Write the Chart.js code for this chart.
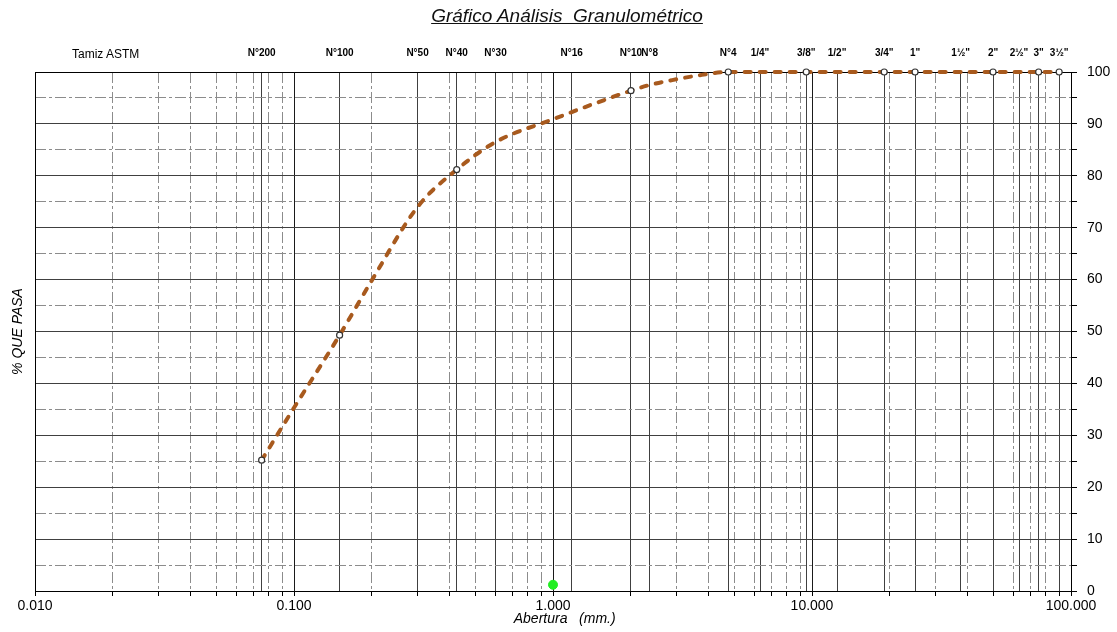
<!DOCTYPE html>
<html>
<head>
<meta charset="utf-8">
<title>Gráfico Análisis Granulométrico</title>
<script src="https://cdn.jsdelivr.net/npm/chart.js@4.4.1/dist/chart.umd.min.js"></script>
<style>
    html, body { margin: 0; padding: 0; background: #fff; }
    #wrap { position: relative; width: 1117px; height: 632px; }
    #titulo {
        position: absolute; top: 5px; left: 567px; transform: translateX(-50%);
        font: italic 19px "Liberation Sans", Arial, sans-serif;
        text-decoration: underline; white-space: pre; color: #111;
    }
    #tamiz {
        position: absolute; top: 47px; left: 72px;
        font: 12px "Liberation Sans", Arial, sans-serif; color: #000;
    }
</style>
</head>
<body>
<div id="wrap">
    <canvas id="granChart" width="1117" height="632"></canvas>
    <div id="titulo">Gráfico Análisis  Granulométrico</div>
    <div id="tamiz">Tamiz ASTM</div>
</div>
<script>
'use strict';

// Tamices ASTM (etiquetas y aberturas en mm)
const sieveLabels = ['N°200', 'N°100', 'N°50', 'N°40', 'N°30', 'N°16', 'N°10', 'N°8', 'N°4',
    '1/4"', '3/8"', '1/2"', '3/4"', '1"', '1½"', '2"', '2½"', '3"', '3½"'];
const sieveSizes = [0.075, 0.15, 0.3, 0.425, 0.6, 1.18, 2.0, 2.36, 4.75,
    6.3, 9.5, 12.5, 19, 25, 37.5, 50, 63, 75, 90];

// Ejes
const decadeTicks = [0.01, 0.1, 1, 10, 100];
const minorTicks = [0.02, 0.03, 0.04, 0.05, 0.06, 0.07, 0.08, 0.09,
    0.2, 0.3, 0.4, 0.5, 0.6, 0.7, 0.8, 0.9,
    2, 3, 4, 5, 6, 7, 8, 9,
    20, 30, 40, 50, 60, 70, 80, 90];
const yMajorTicks = [0, 10, 20, 30, 40, 50, 60, 70, 80, 90, 100];
const yMinorTicks = [5, 15, 25, 35, 45, 55, 65, 75, 85, 95];

// Puntos ensayados (% que pasa)
const testSizes = [0.075, 0.15, 0.425, 2.0, 4.75, 9.5, 19, 25, 50, 75, 90];
const testPass = [25.2, 49.3, 81.2, 96.4, 100, 100, 100, 100, 100, 100, 100];

// Curva granulométrica
const curveSizes = [0.075, 0.1, 0.15, 0.2, 0.3, 0.425, 0.6, 1.0, 2.0, 2.36, 3.0, 3.5, 4.75, 9.5, 19, 25, 50, 75, 90];
const curvePass = [25.2, 35.3, 49.3, 59.9, 74.0, 81.2, 86.5, 90.9, 96.4, 97.5, 98.6, 99.2, 100, 100, 100, 100, 100, 100, 100];

// Punto verde
const greenSize = [1.0];
const greenPass = [1.2];

const fontFamily = '"Liberation Sans", Arial, sans-serif';
const solidColor = '#404040',
    decadeColor = '#1a1a1a',
    dashColor = '#8c8c8c',
    curveColor = '#A85A1E';

Chart.defaults.font.family = fontFamily;
Chart.defaults.color = '#000';

function fixTicks(values) {
    return function (scale) {
        scale.ticks = values.map(v => ({ value: v }));
    };
}
function fixWidth(w) {
    return function (scale) { scale.width = w; };
}
function fixHeight(h) {
    return function (scale) { scale.height = h; };
}
function toPoints(xs, ys) {
    return xs.map((x, i) => ({ x: x, y: ys[i] }));
}

const ctx = document.getElementById('granChart');
new Chart(ctx, {
    type: 'scatter',
    data: {
        datasets: [
            {
                data: toPoints(testSizes, testPass),
                showLine: false,
                pointRadius: 3,
                pointBackgroundColor: '#fff',
                pointBorderColor: '#333',
                pointBorderWidth: 1.2,
                clip: false
            },
            {
                data: toPoints(greenSize, greenPass),
                showLine: false,
                pointRadius: 4.5,
                pointBackgroundColor: '#22ee22',
                pointBorderColor: '#22ee22',
                clip: false
            },
            {
                data: toPoints(curveSizes, curvePass),
                showLine: true,
                borderColor: curveColor,
                borderWidth: 4,
                borderDash: [6, 9],
                borderCapStyle: 'round',
                cubicInterpolationMode: 'monotone',
                pointRadius: 0,
                clip: false
            }
        ]
    },
    options: {
        responsive: false,
        animation: false,
        layout: { padding: 0 },
        plugins: {
            legend: { display: false },
            tooltip: { enabled: false },
            title: { display: false }
        },
        scales: {
            x: {
                type: 'logarithmic',
                position: 'bottom',
                weight: 0,
                min: 0.01,
                max: 100,
                afterBuildTicks: fixTicks(decadeTicks),
                afterFit: fixHeight(41),
                ticks: {
                    autoSkip: false,
                    maxRotation: 0,
                    padding: 2,
                    font: { size: 14 },
                    callback: v => Number(v).toFixed(3)
                },
                grid: { color: decadeColor, lineWidth: 1, tickLength: 5, tickColor: '#000' },
                border: { color: '#000', width: 1 },
                title: {
                    display: true,
                    text: '      Abertura   (mm.)',
                    font: { size: 14, style: 'italic' },
                    padding: { top: 0, bottom: 4 }
                }
            },
            xMinor: {
                type: 'logarithmic',
                position: 'bottom',
                weight: -1,
                min: 0.01,
                max: 100,
                afterBuildTicks: fixTicks(minorTicks),
                afterFit: fixHeight(0),
                ticks: { display: false },
                grid: { color: dashColor, lineWidth: 1, tickLength: 5, tickColor: '#000' },
                border: { display: false, dash: [11, 3, 3, 3] }
            },
            xSieve: {
                type: 'logarithmic',
                position: 'top',
                min: 0.01,
                max: 100,
                afterBuildTicks: fixTicks(sieveSizes),
                afterFit: fixHeight(72),
                ticks: {
                    autoSkip: false,
                    maxRotation: 0,
                    minRotation: 0,
                    padding: 13,
                    font: { size: 10, weight: 'bold' },
                    callback: (v, i) => sieveLabels[i]
                },
                grid: { color: solidColor, lineWidth: 1, drawTicks: false },
                border: { color: '#000', width: 1 }
            },
            y: {
                type: 'linear',
                position: 'right',
                weight: 0,
                min: 0,
                max: 100,
                afterBuildTicks: fixTicks(yMajorTicks),
                afterFit: fixWidth(46),
                ticks: { padding: 10, font: { size: 14 } },
                grid: { color: solidColor, lineWidth: 1, tickLength: 6, tickColor: '#000' },
                border: { color: '#000', width: 1 }
            },
            yMinor: {
                type: 'linear',
                position: 'right',
                weight: -1,
                min: 0,
                max: 100,
                afterBuildTicks: fixTicks(yMinorTicks),
                afterFit: fixWidth(0),
                ticks: { display: false },
                grid: { color: dashColor, lineWidth: 1, tickLength: 6, tickColor: '#000' },
                border: { display: false, dash: [11, 3, 3, 3] }
            },
            yLeft: {
                type: 'linear',
                position: 'left',
                min: 0,
                max: 100,
                afterFit: fixWidth(35),
                ticks: { display: false },
                grid: { drawOnChartArea: false, drawTicks: false },
                border: { color: '#000', width: 1 },
                title: {
                    display: true,
                    text: '% QUE PASA',
                    font: { size: 14, style: 'italic' },
                    padding: { top: 10, bottom: 0 }
                }
            }
        }
    }
});
</script>
</body>
</html>
